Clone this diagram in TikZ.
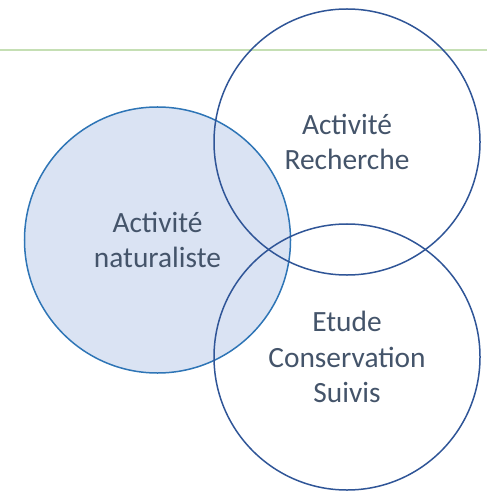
\documentclass[tikz,border=0pt]{standalone}
\usepackage{fontspec}
\setmainfont{Carlito}
\usepackage{tikz}
\usetikzlibrary{positioning}
\definecolor{rulegreen}{HTML}{C5DFB4}
\definecolor{ringblue}{HTML}{2F5597}
\definecolor{natblue}{HTML}{2E75B6}
\definecolor{natfill}{HTML}{DAE3F3}
\definecolor{labelgray}{HTML}{44546A}
\tikzset{every picture/.style={
  line width=1.5bp              % Office style outlines.
  }
}

\begin{document}
\begin{tikzpicture}[
      x=1bp, y=-1bp,
      ring/.style={
        circle,
        draw=ringblue,
        inner sep=0pt,
        minimum size=266bp,
        align=center,
        text=labelgray,
        font=\fontsize{29.5}{35.5}\selectfont
      }]

      \useasboundingbox (0,0) rectangle (487,492);

      % Draw the rule across the page.
      \coordinate (ruleL) at (0,50);
      \coordinate (ruleR) at (487,50);
      \draw[rulegreen] (ruleL) -- (ruleR);

      % Draw the three activity rings.
      \node[ring,draw=natblue,fill=natfill] (nat) at (157.5,240)
        {Activité\\naturaliste};
      \node[ring] (rech) at (347,142) {Activité\\Recherche};
      \node[ring] (etude) at (347,357) {Etude\\Conservation\\Suivis};

    \end{tikzpicture}
\end{document}
